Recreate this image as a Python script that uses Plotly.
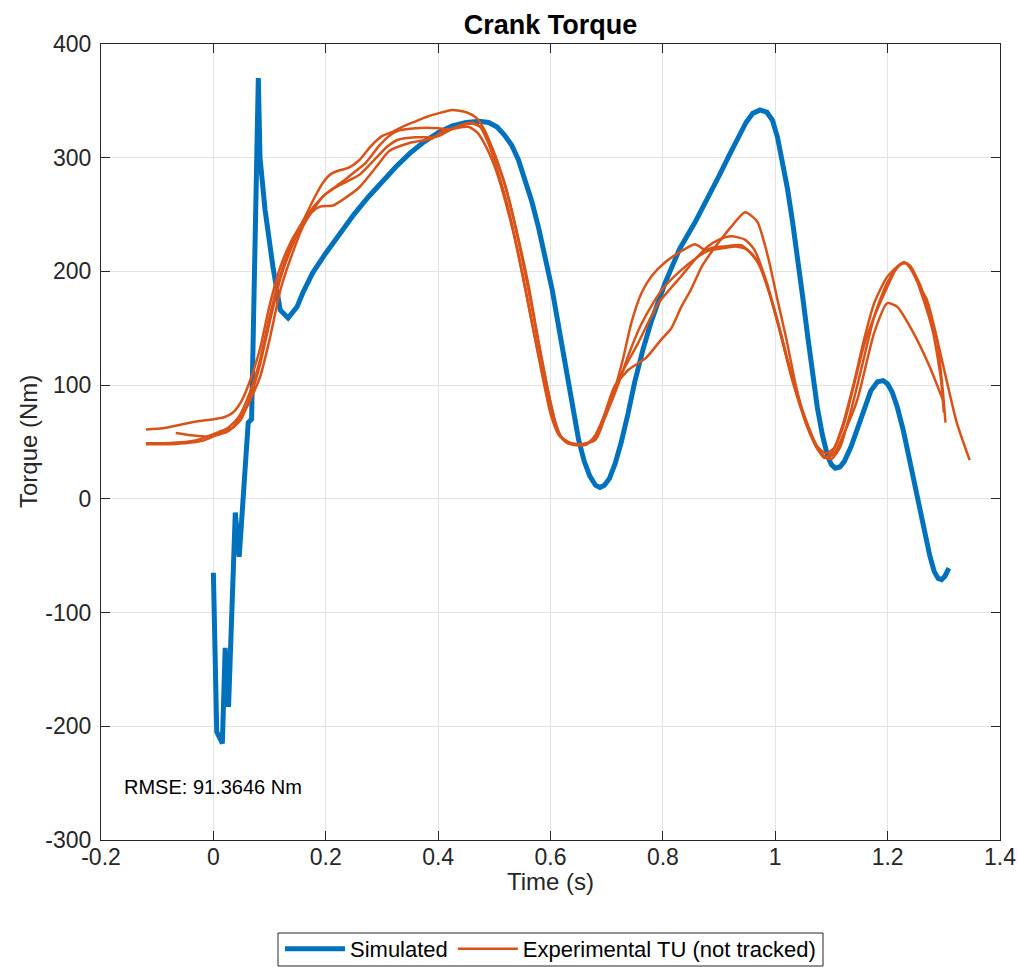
import plotly.graph_objects as go

# ---- Simulated crank torque ----
sim_t = [0.000, 0.006, 0.016, 0.021, 0.027, 0.039, 0.046, 0.053, 0.062, 0.068, 0.080, 0.083,
         0.092, 0.106, 0.119, 0.133, 0.149, 0.160, 0.177, 0.200, 0.225, 0.250, 0.275, 0.300,
         0.325, 0.350, 0.375, 0.400, 0.425, 0.450, 0.473, 0.490, 0.505, 0.518, 0.531, 0.543,
         0.555, 0.567, 0.579, 0.591, 0.603, 0.615, 0.627, 0.639, 0.650, 0.660, 0.670, 0.680,
         0.688, 0.696, 0.705, 0.715, 0.726, 0.738, 0.750, 0.765, 0.780, 0.804, 0.830, 0.857,
         0.880, 0.900, 0.918, 0.934, 0.948, 0.960, 0.973, 0.985, 0.995, 1.004, 1.013, 1.022,
         1.031, 1.040, 1.049, 1.058, 1.067, 1.075, 1.084, 1.093, 1.100, 1.107, 1.115, 1.123,
         1.135, 1.146, 1.158, 1.170, 1.182, 1.192, 1.200, 1.208, 1.217, 1.228, 1.240, 1.252,
         1.265, 1.275, 1.283, 1.290, 1.296, 1.302, 1.309]
sim_v = [-65, -205, -215, -131, -183, -12, -51, -1, 67, 70, 370, 300,
         254, 204, 166, 159, 169, 182, 199, 216, 233, 250, 265, 279,
         292, 304, 314, 322, 328, 331, 332, 331, 327, 320, 311, 298,
         281, 261, 238, 213, 184, 150, 116, 82, 52, 33, 20, 12,
         10, 12, 18, 31, 50, 75, 103, 132, 157, 190, 220, 243,
         264, 284, 302, 318, 331, 339, 342, 340, 333, 318, 297, 272,
         243, 212, 177, 142, 108, 80, 56, 38, 30, 27, 28, 33,
         46, 62, 80, 95, 103, 104, 101, 94, 81, 60, 32, 2,
         -27, -50, -64, -70, -71, -68, -61]

# ---- Experimental trials ----
expA_t = [-0.12, -0.09, -0.06, -0.03, 0.0, 0.02, 0.035, 0.05, 0.066, 0.083, 0.1, 0.12, 0.14, 0.16,
          0.18, 0.195, 0.21, 0.225, 0.24, 0.26, 0.28, 0.30, 0.32, 0.34, 0.36, 0.38, 0.40, 0.425,
          0.45, 0.468, 0.485, 0.50, 0.52, 0.54, 0.56, 0.58, 0.60, 0.615, 0.63, 0.65, 0.665, 0.68,
          0.697, 0.715, 0.73, 0.744, 0.762, 0.78, 0.804, 0.83, 0.857, 0.875, 0.89, 0.91, 0.939,
          0.963, 0.981, 1.004, 1.027, 1.052, 1.075, 1.09, 1.105, 1.12, 1.14, 1.158, 1.176, 1.199,
          1.222, 1.234, 1.246, 1.264, 1.281, 1.295, 1.300]
expA_v = [61, 62, 65, 68, 70, 72, 76, 86, 105, 132, 170, 205, 228, 245,
          265, 278, 286, 289, 291, 298, 310, 319, 323, 328, 332, 336, 339, 342,
          340, 335, 322, 303, 275, 235, 190, 135, 85, 57, 49, 47, 48, 56,
          75, 98, 125, 155, 181, 196, 208, 217, 224, 219, 221, 222, 223,
          213, 195, 155, 111, 72, 46, 40, 45, 65, 102, 140, 172, 195,
          206, 207, 199, 175, 146, 105, 76]

expB_t = [-0.067, -0.04, -0.005, 0.025, 0.048, 0.066, 0.083, 0.1, 0.12, 0.14, 0.16, 0.18, 0.195,
          0.21, 0.23, 0.25, 0.272, 0.296, 0.315, 0.331, 0.36, 0.40, 0.42, 0.443, 0.461, 0.478,
          0.495, 0.51, 0.53, 0.55, 0.57, 0.59, 0.607, 0.62, 0.64, 0.66, 0.675, 0.69, 0.71, 0.726,
          0.756, 0.792, 0.833, 0.86, 0.88, 0.90, 0.921, 0.946, 0.963, 0.981, 1.004, 1.027, 1.052,
          1.075, 1.087, 1.10, 1.12, 1.14, 1.158, 1.176, 1.199, 1.217, 1.229, 1.24, 1.258, 1.27,
          1.288, 1.298, 1.303]
expB_v = [58, 56, 55, 59, 69, 90, 118, 155, 195, 222, 242, 256, 266,
          272, 279, 287, 296, 311, 320, 324, 326, 326, 325, 329, 331, 326,
          310, 290, 255, 210, 160, 108, 70, 54, 48, 48, 52, 66, 92, 110,
          137, 172, 196, 212, 222, 228, 231, 228, 219, 196, 157, 113, 73,
          45, 36, 40, 62, 100, 135, 160, 186, 204, 208, 203, 186, 175,
          140, 96, 67]

expC_t = [-0.12, -0.09, -0.05, -0.02, 0.0, 0.02, 0.035, 0.05, 0.06, 0.083, 0.1, 0.12, 0.14, 0.16,
          0.175, 0.19, 0.213, 0.23, 0.26, 0.29, 0.313, 0.349, 0.39, 0.407, 0.432, 0.455, 0.47,
          0.485, 0.50, 0.515, 0.535, 0.555, 0.575, 0.595, 0.61, 0.625, 0.645, 0.665, 0.68, 0.69,
          0.70, 0.715, 0.74, 0.77, 0.797, 0.815, 0.833, 0.85, 0.87, 0.885, 0.90, 0.921, 0.946,
          0.96, 0.969, 0.987, 1.004, 1.02, 1.037, 1.055, 1.075, 1.09, 1.10, 1.115, 1.135, 1.155,
          1.176, 1.199, 1.217, 1.229, 1.24, 1.258, 1.27, 1.288, 1.306, 1.323, 1.346]
expC_v = [48, 48, 49, 51, 55, 60, 63, 74, 81, 107, 140, 185, 215, 240,
          252, 257, 258, 263, 274, 292, 306, 313, 317, 323, 326, 327, 322,
          310, 293, 270, 232, 185, 135, 88, 62, 51, 48, 49, 52, 62,
          80, 100, 114, 124, 140, 150, 169, 184, 205, 216, 226, 239, 252,
          248, 243, 213, 175, 140, 99, 66, 44, 36, 35, 45, 78, 118,
          160, 190, 203, 208, 205, 188, 170, 140, 102, 67, 34]

expD_t = [-0.12, -0.09, -0.05, -0.02, 0.0, 0.025, 0.045, 0.066, 0.083, 0.1, 0.12, 0.14, 0.16,
          0.18, 0.2, 0.225, 0.26, 0.29, 0.31, 0.33, 0.36, 0.39, 0.405, 0.42, 0.44, 0.46, 0.475,
          0.49, 0.505, 0.525, 0.545, 0.565, 0.585, 0.60, 0.615, 0.635, 0.655, 0.67, 0.685, 0.70,
          0.72, 0.74, 0.76, 0.78, 0.80, 0.83, 0.86, 0.88, 0.90, 0.93, 0.95, 0.97, 0.99, 1.01,
          1.03, 1.055, 1.075, 1.09, 1.105, 1.12, 1.146, 1.176, 1.199, 1.217, 1.246, 1.275, 1.30]
expD_v = [49, 49, 50, 53, 57, 62, 72, 95, 122, 160, 198, 225, 244,
          258, 268, 276, 285, 300, 310, 316, 318, 318, 320, 324, 328, 330, 327,
          312, 290, 255, 210, 160, 110, 75, 56, 49, 48, 50, 58, 75,
          100, 128, 152, 170, 185, 200, 212, 218, 220, 222, 219, 207, 180, 145,
          105, 66, 44, 36, 40, 55, 87, 146, 172, 169, 146, 116, 85]

rmse_text = "RMSE: 91.3646 Nm"
x_title = "Time (s)"
y_title = "Torque (Nm)"

x_ticks = [-0.2, 0, 0.2, 0.4, 0.6, 0.8, 1, 1.2, 1.4]
x_labels = ["-0.2", "0", "0.2", "0.4", "0.6", "0.8", "1", "1.2", "1.4"]
y_ticks = [-300, -200, -100, 0, 100, 200, 300, 400]
y_labels = ["-300", "-200", "-100", "0", "100", "200", "300", "400"]

BLUE = "#0072BD"
ORANGE = "#D95319"
AXC = "#262626"

# plot area in pixels (for placing frame/labels)
L, R, T, B = 101, 18, 44, 127
W, H = 1018, 967
PW, PH = W - L - R, H - T - B

fig = go.Figure()
fig.add_trace(go.Scatter(x=sim_t, y=sim_v, mode="lines", name="Simulated",
                         line=dict(color=BLUE, width=5)))
for i, (tt, vv) in enumerate([(expA_t, expA_v), (expB_t, expB_v), (expC_t, expC_v), (expD_t, expD_v)]):
    fig.add_trace(go.Scatter(x=tt, y=vv, mode="lines", name="Experimental TU (not tracked)",
                             legendgroup="exp", showlegend=(i == 0),
                             line=dict(color=ORANGE, width=2.5, shape="spline", smoothing=0.6)))

fig.add_annotation(x=-0.163, y=-253, text=rmse_text, showarrow=False, xanchor="left",
                   yanchor="middle", font=dict(size=20, color="#000000"))

# axis titles placed like MATLAB (tight to tick labels)
fig.add_annotation(xref="paper", yref="paper", x=0.5, y=-(881 - (T + PH)) / PH,
                   text=x_title, showarrow=False, xanchor="center", yanchor="middle",
                   font=dict(size=24, color=AXC))
fig.add_annotation(xref="paper", yref="paper", x=-(L - 28) / PW, y=0.5,
                   text=y_title, showarrow=False, xanchor="center", yanchor="middle",
                   textangle=-90, font=dict(size=24, color=AXC))

# legend frame (MATLAB style, tight box)
fig.add_shape(type="rect", xref="paper", yref="paper",
              x0=(278 - L) / PW, x1=(823 - L) / PW,
              y0=-(966 - (T + PH)) / PH, y1=-(933 - (T + PH)) / PH,
              line=dict(color=AXC, width=1), fillcolor="white", layer="below")

axis_common = dict(showgrid=True, gridcolor="#e3e3e3", gridwidth=1, zeroline=False,
                   showline=True, linecolor=AXC, linewidth=1, mirror="ticks",
                   ticks="inside", ticklen=9, tickcolor=AXC, automargin=False,
                   tickfont=dict(size=23, color=AXC))

fig.update_xaxes(range=[-0.2, 1.4], tickvals=x_ticks, ticktext=x_labels,
                 ticklabelstandoff=-4, **axis_common)
fig.update_yaxes(range=[-300, 400], tickvals=y_ticks, ticktext=y_labels,
                 ticklabelstandoff=4, **axis_common)

fig.update_layout(
    width=W, height=H,
    margin=dict(l=L, r=R, t=T, b=B, autoexpand=False),
    paper_bgcolor="white", plot_bgcolor="white",
    font=dict(family="Liberation Sans, Arial, sans-serif", color=AXC),
    title=dict(text="<b>Crank Torque</b>", x=(L + PW / 2) / W, xanchor="center",
               y=1 - 25 / H, yanchor="middle", font=dict(size=27, color="#000000")),
    showlegend=True,
    legend=dict(orientation="h", x=(550.5 - L) / PW, xanchor="center",
                y=-(949 - (T + PH)) / PH, yanchor="middle",
                borderwidth=0, bgcolor="rgba(0,0,0,0)",
                font=dict(size=22, color="#000000"), itemwidth=60, tracegroupgap=0),
)

fig.write_html("out.html", config={"displayModeBar": False},
               post_script="document.body.style.margin='0';")
